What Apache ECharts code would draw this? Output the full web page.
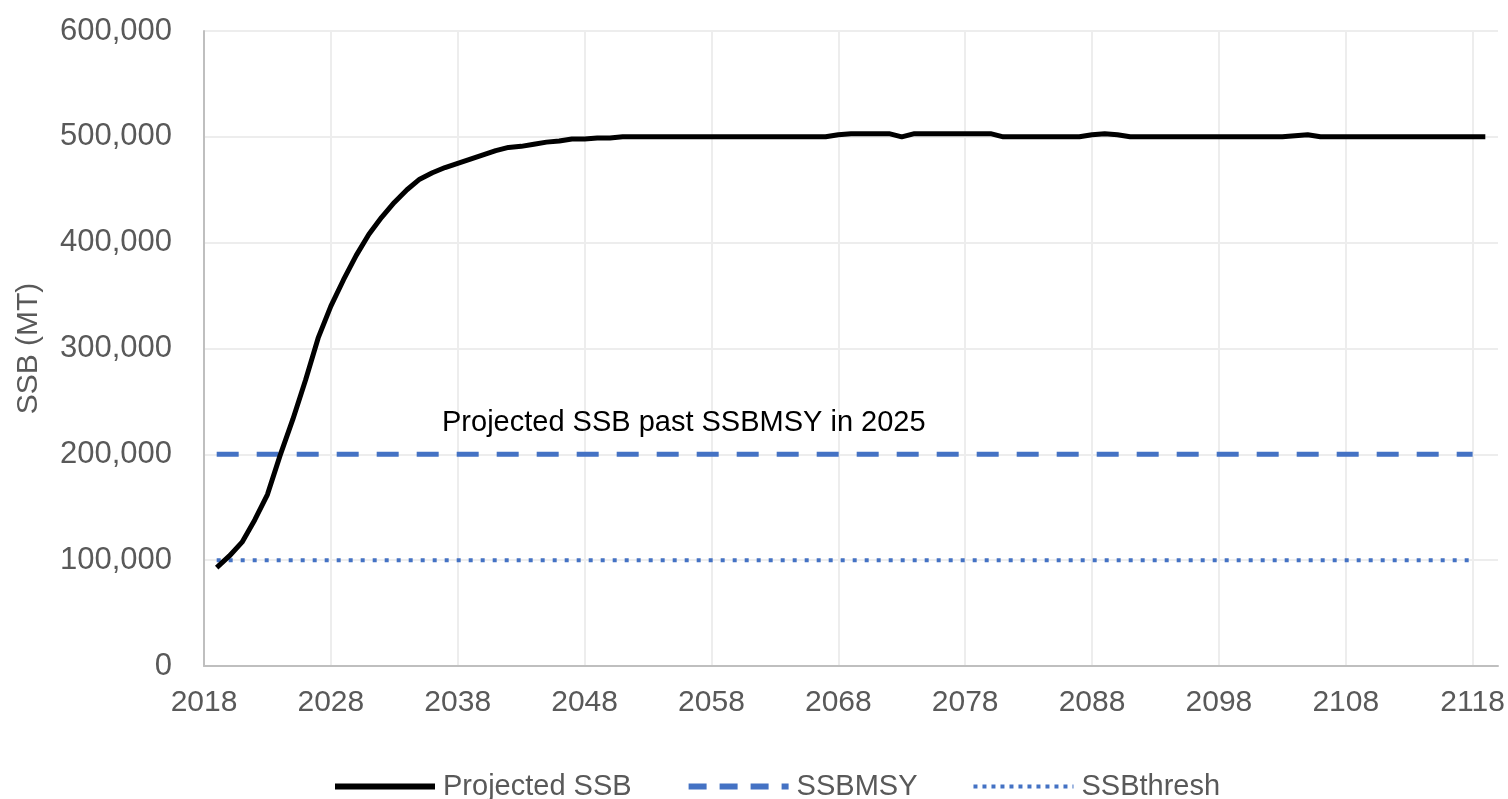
<!DOCTYPE html>
<html>
<head>
<meta charset="utf-8">
<script src="https://cdn.jsdelivr.net/npm/echarts@6/dist/echarts.min.js"></script>
<style>
html,body{margin:0;padding:0;background:#fff;}
#chart{width:1508px;height:799px;}
</style>
</head>
<body>
<div id="chart"></div>
<script>
// Axis categories (years)
const axisStartYear = 2018;
const axisEndYear = 2120;
const yTickLabels = ['0','100,000','200,000','300,000','400,000','500,000','600,000'];

// Projected SSB, 2019..2119
const ssbStartYear = 2019;
const ssbValues = [
  93000, 104000, 117000, 138000, 162000, 199000, 233000, 270000, 310000, 340000, // 2019-2028
  365000, 388000, 408000, 424000, 438000, 450000, 460000, 466000, 471000, 475000, // 2029-2038
  479000, 483000, 487000, 490000, 491000, 493000, 495000, 496000, 498000, 498000, // 2039-2048
  499000, 499000, 500000, 500000, 500000, 500000, 500000, 500000, 500000, 500000, // 2049-2058
  500000, 500000, 500000, 500000, 500000, 500000, 500000, 500000, 500000, 502000, // 2059-2068
  503000, 503000, 503000, 503000, 500000, 503000, 503000, 503000, 503000, 503000, // 2069-2078
  503000, 503000, 500000, 500000, 500000, 500000, 500000, 500000, 500000, 502000, // 2079-2088
  503000, 502000, 500000, 500000, 500000, 500000, 500000, 500000, 500000, 500000, // 2089-2098
  500000, 500000, 500000, 500000, 500000, 501000, 502000, 500000, 500000, 500000, // 2099-2108
  500000, 500000, 500000, 500000, 500000, 500000, 500000, 500000, 500000, 500000, // 2109-2118
  500000                                                                          // 2119
];

// Reference points (constant over 2019..2118)
const refStartYear = 2019;
const refEndYear = 2118;
const ssbMsy = 200000;
const ssbThresh = 100000;

const annotationText = 'Projected SSB past SSBMSY in 2025';

// ---- build library data ----
const categories = [];
for (let y = axisStartYear; y <= axisEndYear; y++) categories.push(String(y));

function alignSeries(startYear, values) {
  return categories.map(c => {
    const i = Number(c) - startYear;
    return (i >= 0 && i < values.length) ? values[i] : null;
  });
}
function constSeries(value, from, to) {
  return categories.map(c => {
    const y = Number(c);
    return (y >= from && y <= to) ? value : null;
  });
}

const chart = echarts.init(document.getElementById('chart'), null, {renderer: 'canvas'});
const fontFam = '"Liberation Sans", Arial, sans-serif';
const option = {
  animation: false,
  backgroundColor: '#ffffff',
  grid: {left: 204, right: 10, top: 31, bottom: 133, containLabel: false},
  legend: {
    left: 327, top: 767,
    itemWidth: 100, itemHeight: 26, itemGap: 54,
    itemStyle: {opacity: 0},
    textStyle: {fontFamily: fontFam, fontSize: 29, color: '#595959', padding: [0,0,0,3]},
    data: [
      {name: 'Projected SSB', lineStyle: {width: 6, color: '#000000'}},
      {name: 'SSBMSY', lineStyle: {width: 6, color: '#4472C4', type: [18, 13]}},
      {name: 'SSBthresh', lineStyle: {width: 4, color: '#4472C4', type: [4, 5]}}
    ]
  },
  xAxis: {
    type: 'category',
    data: categories,
    boundaryGap: false,
    axisLine: {show: true, lineStyle: {color: '#BFBFBF', width: 2}},
    axisTick: {show: false},
    axisLabel: {interval: 9, fontFamily: fontFam, fontSize: 30, color: '#595959', margin: 22},
    splitLine: {show: true, interval: 9, lineStyle: {color: '#EDEDED', width: 2}}
  },
  yAxis: {
    type: 'value',
    min: 0, max: 600000, interval: 100000,
    name: 'SSB (MT)',
    nameLocation: 'middle',
    nameRotate: 90,
    nameGap: 160,
    nameTextStyle: {fontFamily: fontFam, fontSize: 30, color: '#595959'},
    axisLine: {show: true, lineStyle: {color: '#BFBFBF', width: 2}},
    axisTick: {show: false},
    axisLabel: {
      fontFamily: fontFam, fontSize: 31, color: '#595959', margin: 32,
      formatter: v => yTickLabels[Math.round(v / 100000)]
    },
    splitLine: {show: true, lineStyle: {color: '#EDEDED', width: 2}}
  },
  series: [
    {
      name: 'Projected SSB', type: 'line', symbol: 'none', smooth: false,
      data: alignSeries(ssbStartYear, ssbValues),
      lineStyle: {color: '#000000', width: 5},
      itemStyle: {color: '#000000'},
      z: 5
    },
    {
      name: 'SSBMSY', type: 'line', symbol: 'none',
      data: constSeries(ssbMsy, refStartYear, refEndYear),
      lineStyle: {color: '#4472C4', width: 5, type: [22, 18], cap: 'butt'},
      itemStyle: {color: '#4472C4'},
      z: 3
    },
    {
      name: 'SSBthresh', type: 'line', symbol: 'none',
      data: constSeries(ssbThresh, refStartYear, refEndYear),
      lineStyle: {color: '#4472C4', width: 4, type: [4, 8], cap: 'butt'},
      itemStyle: {color: '#4472C4'},
      z: 3
    }
  ],
  graphic: [{
    type: 'text',
    left: 442, top: 408,
    z: 100,
    style: {text: annotationText, font: '29px "Liberation Sans", Arial, sans-serif', fill: '#000000'}
  }]
};
chart.setOption(option);
</script>
</body>
</html>
